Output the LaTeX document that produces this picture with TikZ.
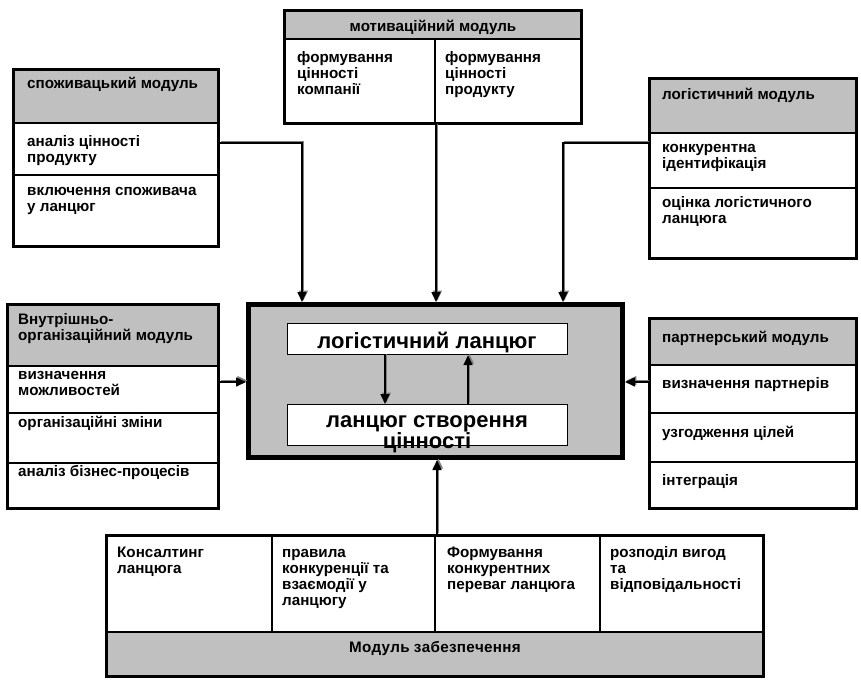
\documentclass[tikz,border=0pt]{standalone}
\usepackage{fontspec}
\setmainfont{Liberation Sans}
\usetikzlibrary{arrows.meta}
\definecolor{boxgray}{RGB}{192,192,192}
\newcommand{\myst}{\rule{0pt}{11.5pt}}
\newcommand{\bigst}{\rule{0pt}{16pt}}
\newcommand{\shadarrow}[1]{\draw[arrsh] #1; \draw[arr] #1;}
\begin{document}
\begin{tikzpicture}[x=1pt,y=-1pt,
  modbox/.style={draw=black, line width=3pt, inner sep=0pt, anchor=north west},
  cenbox/.style={draw=black, line width=5pt, fill=boxgray, inner sep=0pt, anchor=north west},
  chainbox/.style={draw=black, line width=1.2pt, fill=white, inner sep=0pt, anchor=north west},
  divline/.style={draw=black, line width=1.5pt},
  txt/.style={inner sep=0pt, anchor=north west, align=left, font=\bfseries\fontsize{15.2}{16}\selectfont},
  ctxt/.style={inner sep=0pt, anchor=north, align=center, font=\bfseries\fontsize{15.2}{16}\selectfont},
  bigtxt/.style={inner sep=0pt, anchor=north, align=center, font=\bfseries\fontsize{22}{15}\selectfont},
  arr/.style={draw=black, line width=1.6pt, -{Triangle[length=10pt,width=9pt]}},
  arrsh/.style={draw=gray, line width=1.6pt, -{Triangle[length=10pt,width=9pt,fill=gray]},
      transform canvas={shift={(1.4pt,1.4pt)}}}
]
\useasboundingbox (0,0) rectangle (861,680);

% ---------- consumer module
\fill[boxgray] (12,68) rectangle (220,123);
\draw[divline] (12,123) -- (220,123);
\draw[divline] (12,175) -- (220,175);
\node[modbox, minimum width=205pt, minimum height=177pt] (cons) at (12,68) {};
\node[txt] (consh) at (27,77) {\myst споживацький модуль};
\node[txt] (cons1) at (27,135) {\myst аналіз цінності\\продукту};
\node[txt] (cons2) at (27,184) {\myst включення споживача\\у ланцюг};

% ---------- motivation module
\fill[boxgray] (283,9) rectangle (583,39);
\draw[divline] (283,39) -- (583,39);
\draw[divline] (435,39) -- (435,125);
\node[modbox, minimum width=297pt, minimum height=113pt] (mot) at (283,9) {};
\node[ctxt] (moth) at (433,20) {\myst мотиваційний модуль};
\node[txt] (mot1) at (297,51) {\myst формування\\цінності\\компанії};
\node[txt] (mot2) at (445,51) {\myst формування\\цінності\\продукту};

% ---------- logistics module
\fill[boxgray] (648,77) rectangle (858,133);
\draw[divline] (648,133) -- (858,133);
\draw[divline] (648,188) -- (858,188);
\node[modbox, minimum width=207pt, minimum height=180pt] (log) at (648,77) {};
\node[txt] (logh) at (662,88) {\myst логістичний модуль};
\node[txt] (log1) at (662,141) {\myst конкурентна\\ідентифікація};
\node[txt] (log2) at (662,196) {\myst оцінка логістичного\\ланцюга};

% ---------- internal module
\fill[boxgray] (6,303) rectangle (220,366);
\draw[divline] (6,366) -- (220,366);
\draw[divline] (6,413) -- (220,413);
\draw[divline] (6,463) -- (220,463);
\node[modbox, minimum width=211pt, minimum height=204pt] (inn) at (6,303) {};
\node[txt] (innh) at (18,313) {\myst Внутрішньо-\\організаційний модуль};
\node[txt] (inn1) at (18,368) {\myst визначення\\можливостей};
\node[txt] (inn2) at (18,416) {\myst організаційні зміни};
\node[txt] (inn3) at (18,465) {\myst аналіз бізнес-процесів};

% ---------- partner module
\fill[boxgray] (648,317) rectangle (858,365);
\draw[divline] (648,365) -- (858,365);
\draw[divline] (648,413) -- (858,413);
\draw[divline] (648,462) -- (858,462);
\node[modbox, minimum width=207pt, minimum height=190pt] (par) at (648,317) {};
\node[txt] (parh) at (662,331) {\myst партнерський модуль};
\node[txt] (par1) at (662,377) {\myst визначення партнерів};
\node[txt] (par2) at (662,426) {\myst узгодження цілей};
\node[txt] (par3) at (662,474) {\myst інтеграція};

% ---------- central box
\node[cenbox, minimum width=374pt, minimum height=153pt] (cen) at (246,302) {};
\node[chainbox, minimum width=280pt, minimum height=31pt] (lc) at (287,323) {};
\node[chainbox, minimum width=280pt, minimum height=41pt] (vc) at (287,404) {};
\node[bigtxt] (lct) at (427,332) {\bigst логістичний ланцюг};
\node[bigtxt] (vct) at (427,411) {\bigst ланцюг створення\\цінності};

% ---------- support module
\fill[boxgray] (105,632) rectangle (765,678);
\draw[divline] (105,632) -- (765,632);
\draw[divline] (272,534) -- (272,632);
\draw[divline] (435,534) -- (435,632);
\draw[divline] (600,534) -- (600,632);
\node[modbox, minimum width=657pt, minimum height=141pt] (sup) at (105,534) {};
\node[txt] (sup1) at (117,546) {\myst Консалтинг\\ланцюга};
\node[txt] (sup2) at (282,546) {\myst правила\\конкуренції та\\взаємодії у\\ланцюгу};
\node[txt] (sup3) at (447,546) {\myst Формування\\конкурентних\\переваг ланцюга};
\node[txt] (sup4) at (610,546) {\myst розподіл вигод\\та\\відповідальності};
\node[ctxt] (suph) at (435,641) {\myst М\kern0.3pt о\kern0.3pt д\kern0.3pt у\kern0.3pt л\kern0.3pt ь\ з\kern0.3pt а\kern0.3pt б\kern0.3pt е\kern0.3pt з\kern0.3pt п\kern0.3pt е\kern0.3pt ч\kern0.3pt е\kern0.3pt н\kern0.3pt н\kern0.3pt я};

% ---------- connectors
\shadarrow{(cons.east |- 0,143) -| (cen.north -| 302,0)}
\shadarrow{(log.west |- 0,143) -| (cen.north -| 563,0)}
\shadarrow{(mot.south -| 436,0) -- (cen.north -| 436,0)}
\shadarrow{(inn.east |- 0,382) -- (cen.west |- 0,382)}
\shadarrow{(par.west |- 0,382) -- (cen.east |- 0,382)}
\shadarrow{(sup.north -| 437,0) -- (cen.south -| 437,0)}
\shadarrow{(lc.south -| 385,0) -- (vc.north -| 385,0)}
\shadarrow{(vc.north -| 468,0) -- (lc.south -| 468,0)}
\end{tikzpicture}
\end{document}
